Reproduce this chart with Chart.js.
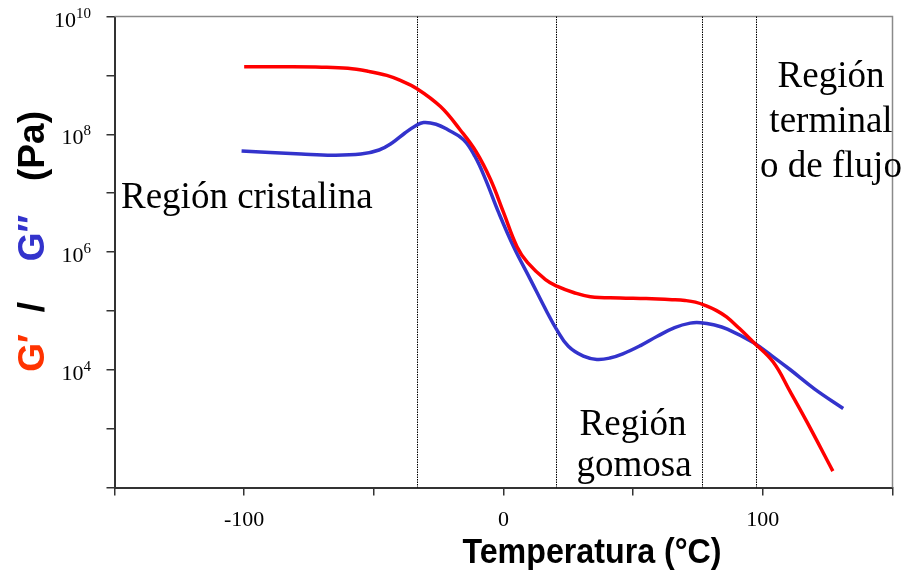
<!DOCTYPE html>
<html>
<head>
<meta charset="utf-8">
<script src="https://cdn.jsdelivr.net/npm/chart.js@4.4.1/dist/chart.umd.min.js"></script>
<style>
  html, body { margin: 0; padding: 0; background: #ffffff; }
  #wrap { width: 910px; height: 578px; position: relative; }
</style>
</head>
<body>
<div id="wrap"><canvas id="c" width="910" height="578"></canvas></div>
<script>
// Storage modulus G' (Pa) against temperature (°C)
const tempStorage = [-100, -85, -70, -60, -52, -45, -40, -33.5, -24.3, -16.6, -10.5, -5, 0, 5.2, 9.3, 16.2, 20.8, 27, 33.5, 45, 55, 65, 70, 74, 78, 82, 86, 91, 96.5, 104, 110.6, 117, 127];
const storageModulus = [1.4e9, 1.4e9, 1.38e9, 1.32e9, 1.17e9, 1.0e9, 8.3e8, 6.0e8, 2.95e8, 1.17e8, 5.0e7, 1.7e7, 4.7e6, 1.23e6, 6.6e5, 3.4e5, 2.6e5, 2.05e5, 1.74e5, 1.66e5, 1.62e5, 1.55e5, 1.5e5, 1.41e5, 1.23e5, 1.02e5, 7.9e4, 5.0e4, 2.9e4, 1.35e4, 4.2e3, 1.3e3, 1.9e2];

// Loss modulus G'' (Pa) against temperature (°C)
const tempLoss = [-101, -90, -78, -66, -55, -48, -43, -38, -34, -30.8, -26, -21.6, -15.4, -11, -6.9, -1.9, 3.9, 10.4, 16.9, 20.4, 25, 30.8, 36, 41, 46, 53, 59.3, 66, 72, 76, 81, 86.3, 96.3, 104, 110.6, 120, 131];
const lossModulus = [5.2e7, 4.9e7, 4.6e7, 4.4e7, 4.6e7, 5.4e7, 7.1e7, 1.05e8, 1.38e8, 1.58e8, 1.48e8, 1.2e8, 8.1e7, 4.2e7, 1.7e7, 4.7e6, 1.23e6, 3.4e5, 9.3e4, 4.9e4, 2.5e4, 1.7e4, 1.5e4, 1.58e4, 1.86e4, 2.6e4, 3.7e4, 5.2e4, 6.2e4, 6.3e4, 5.8e4, 4.9e4, 2.9e4, 1.66e4, 1.0e4, 4.7e3, 2.2e3];

// Axis ticks
const xTickLabelValues = [-100, 0, 100];
const yDecades = [1e2, 1e3, 1e4, 1e5, 1e6, 1e7, 1e8, 1e9, 1e10];
const yLabelValues = [1e4, 1e6, 1e8, 1e10];
const yLabelExponents = ['4', '6', '8', '10'];

// Boundaries between viscoelastic regions (°C)
const regionBounds = [-33.4, 20.2, 76.7, 97.3];

// Region names
const glassyLabel = ['Región cristalina'];
const rubberyLabel = ['Región', 'gomosa'];
const terminalLabel = ['Región', 'terminal', 'o de flujo'];

const SERIF = '"Liberation Serif", "Times New Roman", serif';
const SANS = '"Liberation Sans", Arial, sans-serif';

const toPoints = (xs, ys) => xs.map((x, i) => ({ x: x, y: ys[i] }));

const decorations = {
  id: 'decorations',
  beforeDatasetsDraw(chart) {
    const { ctx, chartArea: a, scales } = chart;
    ctx.save();
    // frame: top and right edges
    ctx.strokeStyle = '#8a8a8a';
    ctx.lineWidth = 1.5;
    ctx.beginPath();
    ctx.moveTo(a.left, a.top);
    ctx.lineTo(a.right, a.top);
    ctx.lineTo(a.right, a.bottom);
    ctx.stroke();
    // dotted region boundaries
    ctx.strokeStyle = '#000';
    ctx.lineWidth = 1;
    ctx.setLineDash([1.5, 1]);
    regionBounds.forEach(t => {
      const x = Math.round(scales.x.getPixelForValue(t)) + 0.5;
      ctx.beginPath();
      ctx.moveTo(x, a.top);
      ctx.lineTo(x, a.bottom);
      ctx.stroke();
    });
    ctx.restore();
  },
  afterDraw(chart) {
    const { ctx, scales } = chart;
    ctx.save();
    ctx.fillStyle = '#000';

    // power-of-ten labels on the modulus axis
    ctx.textBaseline = 'alphabetic';
    yLabelValues.forEach((v, i) => {
      const y = scales.y.getPixelForValue(v);
      const exp = yLabelExponents[i];
      ctx.font = '15px ' + SERIF;
      const ew = ctx.measureText(exp).width;
      const right = 91;
      ctx.textAlign = 'left';
      ctx.fillText(exp, right - ew, y + 1);
      ctx.font = '22px ' + SERIF;
      ctx.textAlign = 'right';
      ctx.fillText('10', right - ew, y + 10);
    });

    ctx.font = '37px ' + SERIF;
    ctx.textAlign = 'left';
    ctx.fillText(glassyLabel[0], 121, 208);
    ctx.textAlign = 'center';
    ctx.fillText(rubberyLabel[0], 633, 435);
    ctx.fillText(rubberyLabel[1], 634, 476);
    ctx.fillText(terminalLabel[0], 831, 87);
    ctx.fillText(terminalLabel[1], 831, 132);
    ctx.fillText(terminalLabel[2], 831, 177);

    // x-axis title, slightly condensed bold sans
    ctx.save();
    ctx.font = 'bold 35px ' + SANS;
    ctx.translate(592, 563);
    ctx.scale(0.92, 1);
    ctx.textAlign = 'center';
    ctx.fillText('Temperatura (°C)', 0, 0);
    ctx.restore();

    // y-axis title in coloured parts
    const parts = [
      { text: 'G′', color: '#ff3300', y: 353 },
      { text: '/', color: '#000000', y: 307 },
      { text: 'G″', color: '#3333cc', y: 238 },
      { text: '(Pa)', color: '#000000', y: 146 }
    ];
    ctx.font = 'bold 37px ' + SANS;
    ctx.textAlign = 'center';
    parts.forEach(p => {
      ctx.save();
      ctx.translate(44, p.y);
      ctx.rotate(-Math.PI / 2);
      ctx.fillStyle = p.color;
      ctx.fillText(p.text, 0, 0);
      ctx.restore();
    });
    ctx.restore();
  }
};

new Chart(document.getElementById('c'), {
  type: 'line',
  data: {
    datasets: [
      {
        label: "G'",
        data: toPoints(tempStorage, storageModulus),
        borderColor: '#ff0000',
        borderWidth: 3.5,
        pointRadius: 0,
        fill: false,
        tension: 0.4
      },
      {
        label: "G''",
        data: toPoints(tempLoss, lossModulus),
        borderColor: '#3333cc',
        borderWidth: 3.5,
        pointRadius: 0,
        fill: false,
        tension: 0.4
      }
    ]
  },
  options: {
    responsive: false,
    animation: false,
    events: [],
    layout: { padding: { left: 0, top: 16.5, right: 17.5, bottom: 0 } },
    plugins: { legend: { display: false }, tooltip: { enabled: false } },
    scales: {
      x: {
        type: 'linear',
        min: -150,
        max: 150,
        afterFit(scale) {
          scale.height = 90.5;
          scale.paddingLeft = 0;
          scale.paddingRight = 0;
        },
        ticks: {
          stepSize: 50,
          autoSkip: false,
          maxRotation: 0,
          padding: 12,
          color: '#000',
          font: { family: SERIF, size: 22 },
          callback: v => (xTickLabelValues.includes(v) ? String(v) : '')
        },
        grid: { drawOnChartArea: false, drawTicks: true, tickLength: 8, color: '#333', lineWidth: 1.5 },
        border: { display: true, color: '#333', width: 2 }
      },
      y: {
        type: 'logarithmic',
        min: 1e2,
        max: 1e10,
        afterFit(scale) {
          scale.width = 114.5;
          scale.paddingTop = 0;
          scale.paddingBottom = 0;
        },
        afterBuildTicks(scale) { scale.ticks = yDecades.map(v => ({ value: v })); },
        ticks: {
          autoSkip: false,
          padding: 16,
          color: '#000',
          font: { family: SERIF, size: 22 },
          callback: () => ''
        },
        grid: { drawOnChartArea: false, drawTicks: true, tickLength: 8, color: '#333', lineWidth: 1.5 },
        border: { display: true, color: '#333', width: 2 }
      }
    }
  },
  plugins: [decorations]
});
</script>
</body>
</html>
